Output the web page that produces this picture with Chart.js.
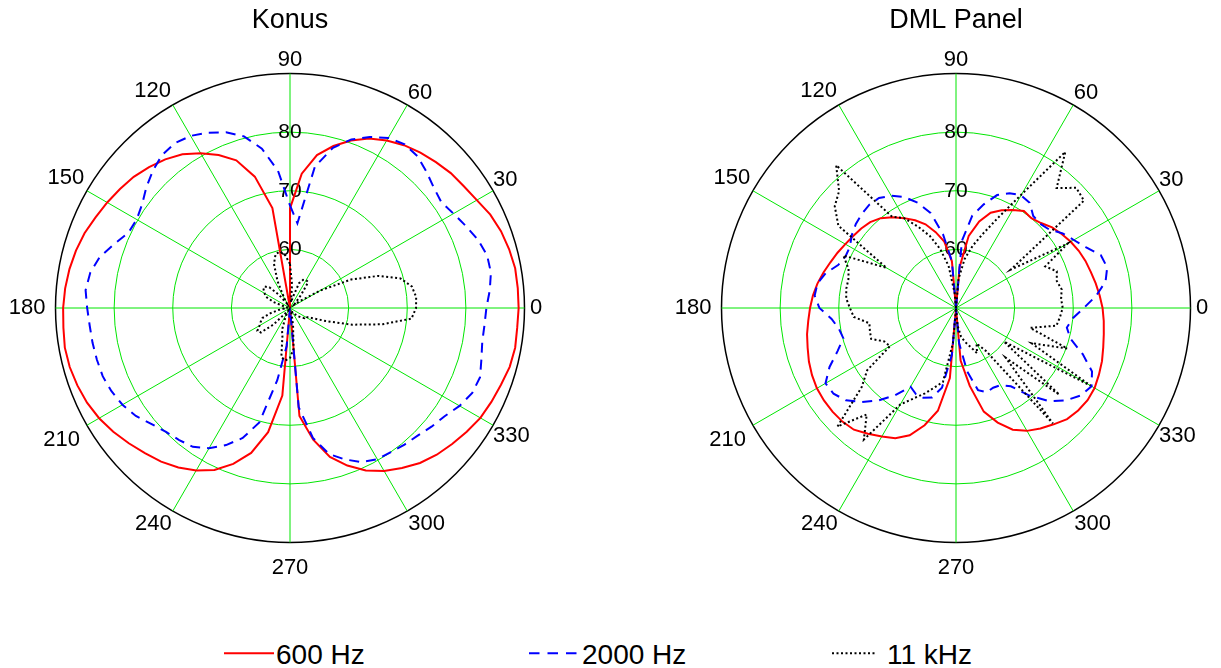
<!DOCTYPE html>
<html>
<head>
<meta charset="utf-8">
<script src="https://cdn.jsdelivr.net/npm/chart.js@4.4.1/dist/chart.umd.min.js"></script>
<style>
  html, body { margin:0; padding:0; background:#fff; overflow:hidden; width:1221px; height:668px; }
  body { position:relative; }
  canvas { position:absolute; top:0; }
  #konus { left:-41px; }
  #dml { left:625px; }
  #legend { position:absolute; left:0; top:620px; }
</style>
</head>
<body>
<canvas id="konus" width="662" height="585"></canvas>
<canvas id="dml" width="662" height="585"></canvas>
<svg id="legend" width="1221" height="48" xmlns="http://www.w3.org/2000/svg"></svg>
<script>
// angle (deg, counter-clockwise from 0 = right), one value every 5 deg
const angles = [0,5,10,15,20,25,30,35,40,45,50,55,60,65,70,75,80,85,90,95,100,105,110,115,
  120,125,130,135,140,145,150,155,160,165,170,175,180,185,190,195,200,205,210,215,220,225,230,235,
  240,245,250,255,260,265,270,275,280,285,290,295,300,305,310,315,320,325,330,335,340,345,350,355];

// level in dB, Konus
const konus600 = [89,89,89,88.7,88.3,87.7,86.8,86.2,85.8,85.2,84.6,83.9,83,81.9,80.4,78.6,76.5,73,67,50,67.3,73.2,76.8,78.8,
  80.5,82,83.1,84,84.8,85.4,86,86.6,87.3,87.8,88.2,88.5,88.7,88.8,89,88.9,88.6,88.2,87.6,86.8,85.9,85,84.2,83.2,
  82,80.5,78.3,75.6,71.5,65,50,68.5,72.8,76.3,78.6,80.6,82.1,83.3,84.5,85.4,86.1,86.8,87.5,87.9,88.3,88.8,89,88.9];
const konus2000 = [83.5,84.2,84.8,84.8,84.1,83.1,82.2,81.5,82,82.9,83.8,84.1,83.5,82.2,80.6,78.3,74.5,64.5,67.5,73.5,77.6,80.3,81.9,83,
  83.9,84.3,84,83.1,82,80.8,80.2,80.4,81.9,83.6,84.6,85,84.6,84.3,84.2,84.1,84,83.6,83,82.1,80.8,79.9,79.4,78.9,
  77.6,75.8,73.6,70.2,62.5,56.5,50,67,72.5,75.8,77.5,79,79.8,80,80.4,80.8,81.5,82.2,83.4,84.3,84.5,83.8,83.3,83.3];
const konus11k = [71.5,71.6,71.1,69.5,66,61.5,56,52,51,51.5,53,55.4,55.5,55.3,54.5,52,51,54,57.5,59,59.8,59.5,58,55,
  52,51,53,55,55.7,55.5,55,54.5,53,51,50.5,50.5,51,51,52,53.5,55,55.5,56,56.8,56.5,54,51,50.5,
  51,52,54,55,58.5,59,58.5,57,53,51,50.5,50.5,51,51,51.5,52,52.5,53,53,54,56.5,61,66,70.8];

// level in dB, DML panel
const dml600 = [75,74.6,74.2,73.8,73.5,73.1,72.6,72,71.4,70.5,70,70.2,69.3,68.4,67.3,65.3,62.5,57,50,58,61.5,63.4,65.2,66.5,
  67.7,68.9,70,70.7,71.1,71.4,71.8,72.3,72.8,73.4,74,74.5,74.9,75.3,75.8,76.2,76.7,77.1,77.4,77.5,77.5,77.4,77.1,76.2,
  75.3,74.5,73.1,70.7,67.8,62,50,59,63.5,68.3,70.8,72.9,74.2,75.1,75.9,76.8,77.2,77.4,77.3,76.9,76.5,76,75.6,75.3];
const dml2000 = [71.8,74,75.9,76.7,76.3,74.5,73.2,72.2,70.8,70.3,70.5,71.9,72.2,71.6,70.5,68.3,66,61.5,50,58,62.8,66.8,69.1,70.9,
  72.1,72.9,73,72.7,72.3,71.7,70.9,70.8,71.4,73,74,74.2,73.3,71.3,70.3,69.9,71.5,73.8,75.7,75.5,74.5,72.7,70.6,68.2,
  65.5,66.2,66.3,65.8,63.8,58,50,56,61,64.5,65.3,65,65.2,66.3,69.5,72.5,74.5,76,76.7,75.6,73,70.2,69.2,70];
const dml11k = [68.2,68,68.3,67.8,68.3,66.8,72,61.4,78.5,79,76.7,82.5,72.4,67,63.5,61,58.5,55,50,52.5,57.3,60.4,63.1,65.3,
  67.7,69,81.8,78.2,77,74.5,63.7,71.2,69.5,69,69,68.8,68.1,67.5,65,65.2,65.4,63.5,63,68.5,71,78.6,73.7,77.4,
  69,67,65.5,64,62.8,56,50,53,55,56,57,58.5,57,59,75.7,62,73,60,76.5,64.2,70.2,63.1,67.4,67.8];

const seriesNames = ["600 Hz", "2000 Hz", "11 kHz"];
const radialTicks = [50, 60, 70, 80, 90];
const angleTicks = [0, 30, 60, 90, 120, 150, 180, 210, 240, 270, 300, 330];

// radar runs clockwise from the top, the polar plot runs counter-clockwise from the right
const nAng = angles.length, topIdx = angles.indexOf(90);
const toRadar = arr => arr.map((_, i) => arr[(topIdx - i + nAng) % nAng]);
const radarLabels = toRadar(angles);

const FONT = "'Liberation Sans', Arial, Helvetica, sans-serif";
Chart.defaults.font.family = FONT;
Chart.defaults.color = '#000';

const styles = [
  { color: '#ff0000', dash: [] },
  { color: '#0000ff', dash: [10, 7] },
  { color: '#000000', dash: [2, 2.5] }
];
// gap between circle and angle label (chart.js adds half a tick font on top of this)
const labelPad = {0:-5, 30:-10.5, 60:-9.5, 90:-7.8, 120:-7, 150:-7.5, 180:-0.5, 210:-2.5, 240:-8.5, 270:4, 300:-8.5, 330:-10.5};
const GREEN = '#00e600';

function polar(id, title, series){
  new Chart(document.getElementById(id), {
    type: 'radar',
    data: {
      labels: radarLabels,
      datasets: series.map((s, k) => ({
        label: seriesNames[k],
        data: toRadar(s),
        borderColor: styles[k].color,
        borderDash: styles[k].dash,
        borderWidth: 2,
        borderCapStyle: 'butt',
        pointRadius: 0,
        fill: false,
        order: 3 - k
      }))
    },
    options: {
      responsive: false,
      animation: false,
      devicePixelRatio: 1,
      layout: { padding: 0 },
      plugins: {
        legend: { display: false },
        tooltip: { enabled: false },
        title: { display: true, text: title, color: '#000',
          font: { size: 27, weight: 'normal', lineHeight: '24px' }, padding: { top: 9, bottom: 10.5 } }
      },
      scales: {
        r: {
          min: radialTicks[0],
          max: radialTicks[radialTicks.length - 1],
          startAngle: 0,
          grid: {
            circular: true,
            color: c => c.tick.value === 90 ? '#000' : GREEN,
            lineWidth: c => c.tick.value === 90 ? 1.5 : 1
          },
          angleLines: {
            color: GREEN,
            lineWidth: c => angleTicks.includes(radarLabels[c.index]) ? 1 : 0
          },
          ticks: {
            stepSize: 10,
            showLabelBackdrop: false,
            backdropPadding: 0,
            color: '#000',
            font: { size: 21 },
            callback: v => (v === 90 ? '' : String(v))
          },
          pointLabels: {
            color: '#000',
            font: { size: 22, lineHeight: 1 },
            padding: c => labelPad[radarLabels[c.index]] ?? -10.5,
            callback: l => (angleTicks.includes(l) ? String(l) : '')
          }
        }
      }
    }
  });
}

polar('konus', 'Konus', [konus600, konus2000, konus11k]);
polar('dml', 'DML Panel', [dml600, dml2000, dml11k]);

// legend under both plots
const leg = document.getElementById('legend');
const NS = 'http://www.w3.org/2000/svg';
const legPos = [[224, 274, 276], [529, 577, 582], [832, 876, 887]];
seriesNames.forEach((name, k) => {
  const [x1, x2, tx] = legPos[k];
  const ln = document.createElementNS(NS, 'line');
  ln.setAttribute('x1', x1); ln.setAttribute('x2', x2);
  ln.setAttribute('y1', 33.3); ln.setAttribute('y2', 33.3);
  ln.setAttribute('stroke', styles[k].color);
  ln.setAttribute('stroke-width', 2);
  if (k === 1) ln.setAttribute('stroke-dasharray', '10.5 8');
  if (k === 2) ln.setAttribute('stroke-dasharray', '2 2.5');
  leg.appendChild(ln);
  const t = document.createElementNS(NS, 'text');
  t.setAttribute('x', tx); t.setAttribute('y', 43.5);
  t.setAttribute('font-family', FONT);
  t.setAttribute('font-size', 28);
  t.setAttribute('fill', '#000');
  t.textContent = name;
  leg.appendChild(t);
});
</script>
</body>
</html>
